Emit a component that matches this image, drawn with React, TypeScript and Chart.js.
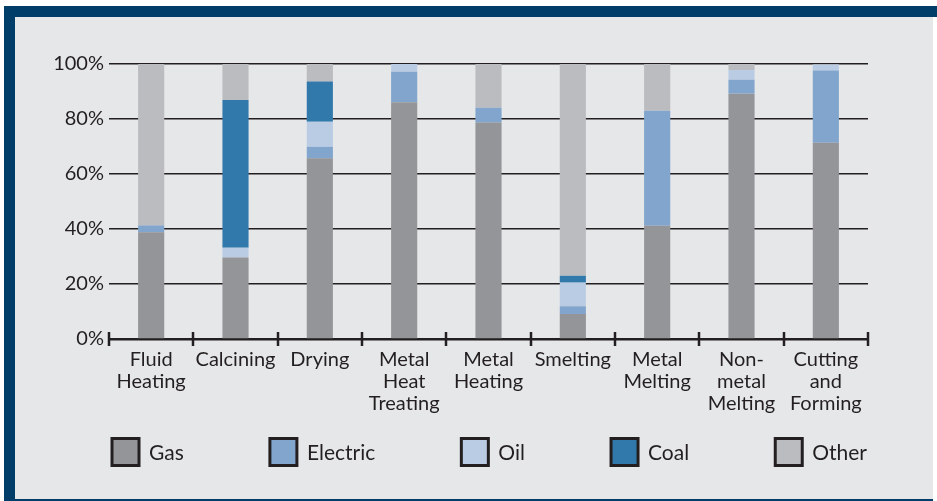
import React, { useEffect, useRef } from "react";
import { Chart, registerables } from "chart.js";

Chart.register(...registerables);

const categories: string[][] = [
  ["Fluid", "Heating"],
  ["Calcining"],
  ["Drying"],
  ["Metal", "Heat", "Treating"],
  ["Metal", "Heating"],
  ["Smelting"],
  ["Metal", "Melting"],
  ["Non-", "metal", "Melting"],
  ["Cutting", "and", "Forming"],
];

const gasValues = [38.8, 29.6, 65.7, 86.1, 78.7, 9.1, 41.2, 89.2, 71.4];
const electricValues = [2.5, 0, 4.2, 11.1, 5.4, 2.8, 41.8, 5.1, 26.2];
const oilValues = [0, 3.6, 9.1, 2.8, 0, 8.6, 0, 3.5, 2.2];
const coalValues = [0, 53.7, 14.6, 0, 0, 2.5, 0, 0, 0];
const otherValues = [58.7, 13.1, 6.4, 0, 15.9, 77.0, 17.0, 2.2, 0.2];

const seriesNames = ["Gas", "Electric", "Oil", "Coal", "Other"];
const seriesColors = ["#939598", "#81a5cc", "#b9cce4", "#3279ab", "#bbbcbf"];
const yTicks = [0, 20, 40, 60, 80, 100];

const INK = "#231f20";
const FONT = "Lato, 'Open Sans', sans-serif";

const boundaryTicks = {
  id: "boundaryTicks",
  afterDatasetsDraw(chart: any) {
    const x = chart.scales.x;
    const bottom = chart.chartArea.bottom;
    const ctx = chart.ctx;
    ctx.save();
    ctx.strokeStyle = INK;
    ctx.lineWidth = 2.5;
    const n = chart.data.labels.length;
    for (let i = 0; i <= n; i++) {
      const px = Math.round(x.getPixelForValue(i - 0.5));
      ctx.beginPath();
      ctx.moveTo(px, bottom - 7);
      ctx.lineTo(px, bottom + 7);
      ctx.stroke();
    }
    ctx.restore();
  },
};

const spreadLegend = {
  id: "spreadLegend",
  afterDraw(chart: any) {
    const ctx = chart.ctx;
    const area = chart.chartArea;
    const box = 27;
    const gapText = 10;
    ctx.save();
    ctx.font = `21px ${FONT}`;
    const widths = chart.data.datasets.map(
      (d: any) => box + gapText + ctx.measureText(d.label).width
    );
    const total = widths.reduce((a: number, b: number) => a + b, 0);
    const left = area.left + 3;
    const right = area.right - 1;
    const gap = (right - left - total) / (widths.length - 1);
    const cy = 435;
    let cx = left;
    chart.data.datasets.forEach((d: any, i: number) => {
      ctx.fillStyle = d.backgroundColor;
      ctx.fillRect(cx, cy - box / 2, box, box);
      ctx.lineWidth = 3;
      ctx.strokeStyle = INK;
      ctx.strokeRect(cx, cy - box / 2, box, box);
      ctx.fillStyle = INK;
      ctx.textBaseline = "middle";
      ctx.textAlign = "left";
      ctx.fillText(d.label, cx + box + gapText, cy + 1);
      cx += widths[i] + gap;
    });
    ctx.restore();
  },
};

export default function App() {
  const ref = useRef<HTMLCanvasElement | null>(null);

  useEffect(() => {
    if (!ref.current) return;
    const values = [gasValues, electricValues, oilValues, coalValues, otherValues];
    const chart = new Chart(ref.current, {
      type: "bar",
      data: {
        labels: categories,
        datasets: seriesNames.map((name, i) => ({
          label: name,
          data: values[i],
          backgroundColor: seriesColors[i],
          borderWidth: 0,
          barPercentage: 0.31,
          categoryPercentage: 1,
        })),
      },
      options: {
        animation: false,
        responsive: false,
        maintainAspectRatio: false,
        layout: { padding: { top: 47, right: 65, left: 0, bottom: 80 } },
        plugins: {
          legend: { display: false },
          tooltip: { enabled: false },
        },
        scales: {
          x: {
            stacked: true,
            afterFit: (s: any) => {
              s.height = 80;
            },
            grid: { display: false, drawTicks: false },
            border: { display: true, color: INK, width: 2.5 },
            ticks: {
              color: INK,
              font: { family: FONT, size: 20, lineHeight: 1.1 },
              padding: 10,
              maxRotation: 0,
              autoSkip: false,
            },
          },
          y: {
            stacked: true,
            min: 0,
            max: 100,
            afterFit: (s: any) => {
              s.width = 94;
            },
            afterBuildTicks: (s: any) => {
              s.ticks = yTicks.map((v) => ({ value: v }));
            },
            grid: { color: INK, lineWidth: 1.5, drawTicks: false },
            border: { display: false },
            ticks: {
              color: INK,
              font: { family: FONT, size: 20 },
              padding: 5,
              callback: (v: any) => v + "%",
            },
          },
        },
      },
      plugins: [boundaryTicks, spreadLegend],
    });
    return () => chart.destroy();
  }, []);

  return (
    <div style={{ position: "absolute", left: 0, top: 0, width: 937, height: 501, background: "#ffffff" }}>
      <div style={{ position: "absolute", left: 4, top: 6, width: 933, height: 495, background: "#003d68" }} />
      <div style={{ position: "absolute", left: 933, top: 17, width: 4, height: 484, background: "#ffffff" }} />
      <div style={{ position: "absolute", left: 15, top: 17, width: 918, height: 482, background: "#e6e7e9" }}>
        <canvas ref={ref} width={918} height={482} style={{ display: "block", width: 918, height: 482 }} />
      </div>
    </div>
  );
}
